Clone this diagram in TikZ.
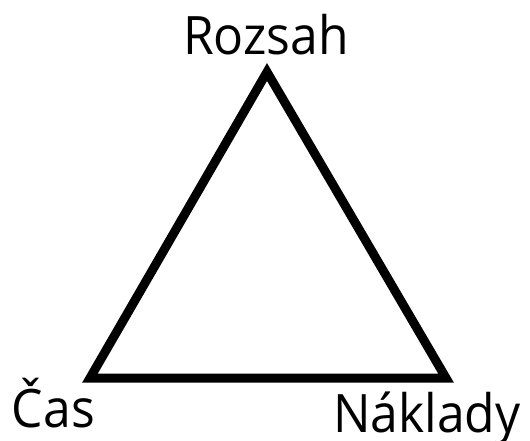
\documentclass[tikz,border=0pt]{standalone}
\usepackage{fontspec}
\setmainfont{Open Sans}
\newcommand{\narrowtxt}[1]{\scalebox{0.94}[1]{#1}}
\begin{document}
\begin{tikzpicture}[x=1pt,y=-1pt,
  lbl/.style={inner sep=0pt,outer sep=0pt,anchor=base west,font=\fontsize{53}{60}\selectfont},
  edge/.style={draw=black,line width=9pt,line join=miter}]
\useasboundingbox (0,0) rectangle (530,441);
\coordinate (top) at (267,72);
\coordinate (bl) at (90,378);
\coordinate (br) at (446,378);
\draw[edge] (top) -- (bl) -- (br) -- cycle;
\node[lbl] (rozsah) at (183,55) {\narrowtxt{Rozsah}};
\node[lbl] (cas) at (12,427) {\narrowtxt{Čas}};
\node[lbl] (naklady) at (333,432) {\narrowtxt{Náklady}};
\end{tikzpicture}
\end{document}
